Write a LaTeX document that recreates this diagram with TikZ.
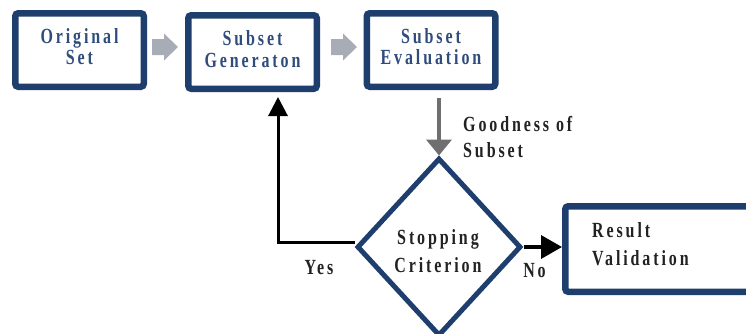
\documentclass[tikz,border=0pt]{standalone}
\usepackage{fontspec}
\usepackage{graphicx}
\setmainfont{Liberation Serif}
\newfontfamily\lbl{Liberation Serif}[LetterSpace=18]
\usetikzlibrary{shapes.geometric,arrows.meta,calc}
\definecolor{bdr}{HTML}{1E3F6E}
\definecolor{boxtxt}{HTML}{2F4C7C}
\definecolor{garw}{HTML}{A8ACB6}
\definecolor{gdown}{HTML}{6F6F6F}
\definecolor{dtxt}{HTML}{222222}
% tall, letter-spaced text block: #1 alignment, #2 baselineskip, #3 lines
\newcommand\tallblk[3]{\scalebox{1}[1.35]{\fontsize{16}{#2}\selectfont\begin{tabular}{@{}#1@{}}#3\end{tabular}}}
\tikzset{
  box/.style={draw=bdr, line width=6.5pt, rounded corners=3pt, fill=white,
    minimum width=128.5pt, minimum height=73.5pt, inner sep=0pt,
    font=\lbl\bfseries, text=boxtxt},
  dia/.style={diamond, draw=bdr, line width=5pt, fill=white,
    minimum width=164pt, minimum height=178pt, inner sep=0pt},
  lab/.style={font=\lbl\bfseries, text=dtxt, inner sep=0pt},
  blockarrow/.pic={\fill[garw] (-13,-8) -- (-1,-8) -- (-1,-13.5) -- (13,0) -- (-1,13.5) -- (-1,8) -- (-13,8) -- cycle;}
}
\begin{document}
\begin{tikzpicture}[x=1pt,y=-1pt]
\useasboundingbox (0,0) rectangle (746,333);
\clip (0,0) rectangle (746,333);
\node[box] (b1) at (79.5,50) {\tallblk{c}{15.5}{Original\\Set}};
\node[box] (b2) at (252.5,52) {\tallblk{c}{16.5}{Subset\\Generaton}};
\node[box] (b3) at (431,50) {\tallblk{c}{15.5}{Subset\\Evaluation}};
\pic at (165,47) {blockarrow};
\pic at (344,47) {blockarrow};
\node[dia] (d) at (439,247) {};
\node[lab] (dt) at (438,253) {\tallblk{c}{20.5}{Stopping\\Criterion}};
\node[draw=bdr, line width=6.5pt, rounded corners=3pt, minimum width=240pt, minimum height=85.5pt, inner sep=0pt] (rv) at (685.25,249) {};
\node[lab, anchor=west] (rvt) at (592,246) {\tallblk{l}{20.5}{Result\\Validation}};
\node[lab, anchor=west] (gl) at (463,139) {\tallblk{l}{19.5}{Goodness of\\Subset}};
\node[lab] (yes) at (319,270) {\tallblk{c}{16}{Yes}};
\node[lab] (no) at (534.5,273) {\tallblk{c}{16}{No}};
\coordinate (yc) at (278,242);
\draw[gdown, line width=4pt, -{Triangle[length=16pt,width=25pt]}] ([yshift=-8pt]b3.south -| d.north) -- (d.north);
\draw[line width=3pt, line join=miter, shorten >=5pt, -{Triangle[length=19pt,width=19pt]}] (d.west |- yc) -- (yc) -- (yc |- b2.south);
\draw[line width=3.5pt, -{Triangle[length=21pt,width=23pt]}] (d.east) -- (d.east -| rv.west);
\end{tikzpicture}
\end{document}
